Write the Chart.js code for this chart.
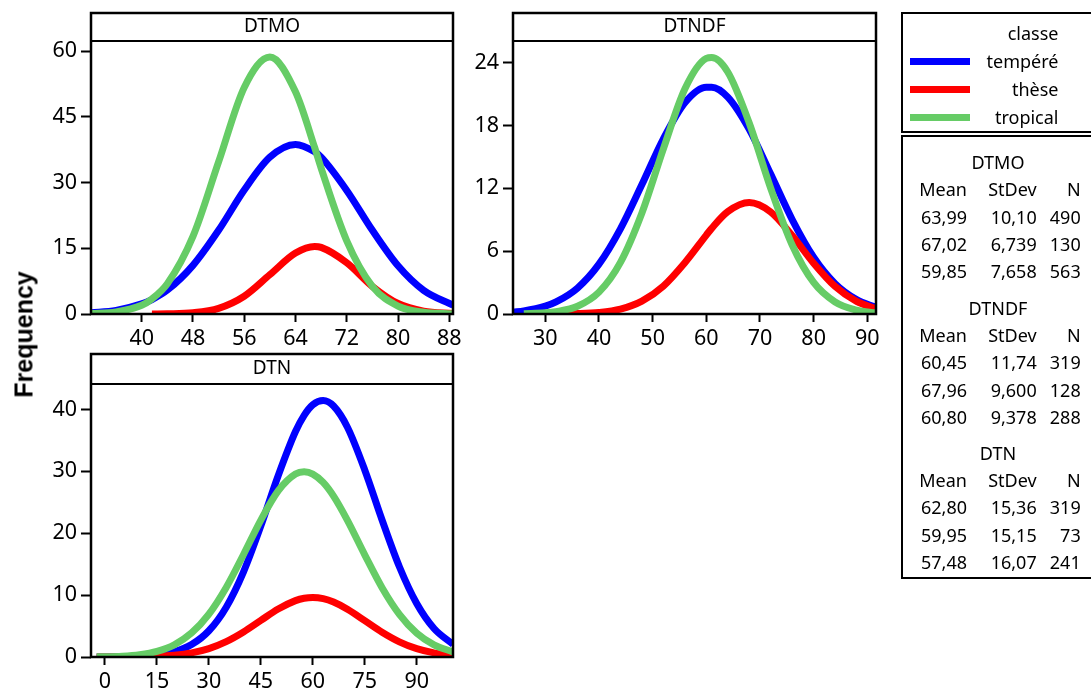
<!DOCTYPE html>
<html>
<head>
<meta charset="utf-8">
<title>classe</title>
<script src="https://cdn.jsdelivr.net/npm/chart.js@4.4.0/dist/chart.umd.min.js"></script>
<style>
  html, body { margin: 0; padding: 0; background: #fff; overflow: hidden; }
  body { width: 1091px; height: 693px; position: relative; font-family: "Noto Sans", sans-serif; color: #000; }
  canvas { position: absolute; }
  .box { position: absolute; border: 2px solid #000; box-sizing: border-box; background: #fff; }
  .txt { position: absolute; width: 200px; font-size: 18px; line-height: 24px; white-space: nowrap; }
  .swatch { position: absolute; width: 60px; height: 7px; }
  #ylab { position: absolute; left: -76px; top: 320px; width: 200px; line-height: 30px; text-align: center;
          font: bold 25px "Liberation Sans", Arial, sans-serif; transform: rotate(-90deg); }
</style>
</head>
<body>
<canvas id="dtmo" width="470" height="352" style="left:0;top:0"></canvas>
<canvas id="dtndf" width="433" height="352" style="left:460px;top:0"></canvas>
<canvas id="dtn" width="470" height="356" style="left:0;top:340px"></canvas>
<div id="ylab">Frequency</div>
<div class="box" style="left:901px;top:12px;width:200px;height:121px"></div>
<div class="box" style="left:901px;top:135px;width:200px;height:444px"></div>
<div id="legend"></div>

<script>
"use strict";

var classes = ['tempéré', 'thèse', 'tropical'];
var classColors = ['#0000FF', '#FF0000', '#66CC66'];

// DTMO
var dtmoX = [32, 36, 40, 41.6, 44, 48, 52, 56, 60, 64, 67, 68, 72, 76, 80, 84, 88.6];
var dtmoTempere = [0.26, 0.83, 2.3, 3.3, 5.45, 11.1, 19.1, 28.3, 35.8, 38.7, 37.0, 35.8, 28.2, 19.1, 11.0, 5.4, 2.0];
var dtmoThese = [null, null, null, 0.01, 0.05, 0.29, 1.3, 4.06, 8.97, 13.9, 15.4, 15.2, 11.7, 6.3, 2.4, 0.64, 0.1];
var dtmoTropical = [0.08, 0.46, 2.0, 3.43, 6.9, 17.7, 34.7, 51.7, 58.65, 50.7, 37.95, 33.3, 16.7, 6.3, 1.8, 0.4, 0.05];
var dtmoXTicks = [40, 48, 56, 64, 72, 80, 88];
var dtmoYTicks = [0, 15, 30, 45, 60];

// DTNDF
var dtndfX = [24, 26, 30, 32, 36, 40, 44, 48, 52, 56, 60, 61, 64, 68, 72, 76, 80, 84, 88, 91.6];
var dtndfTempere = [0.17, 0.29, 0.75, 1.15, 2.48, 4.76, 8.13, 12.36, 16.73, 20.18, 21.66, 21.66, 20.71, 17.63, 13.36, 9.02, 5.42, 2.90, 1.38, 0.64];
var dtndfThese = [null, null, null, 0.01, 0.04, 0.15, 0.47, 1.23, 2.67, 4.90, 7.54, 8.18, 9.77, 10.64, 9.74, 7.49, 4.85, 2.63, 1.20, 0.51];
var dtndfTropical = [null, 0.03, 0.11, 0.22, 0.74, 2.09, 4.93, 9.65, 15.77, 21.49, 24.41, 24.49, 23.11, 18.24, 12.01, 6.59, 3.01, 1.15, 0.37, 0.11];
var dtndfXTicks = [30, 40, 50, 60, 70, 80, 90];
var dtndfYTicks = [0, 6, 12, 18, 24];

// DTN
var dtnX = [-2.4, 5, 10, 15, 20, 25, 30, 35, 40, 45, 50, 55, 57.5, 60, 63, 66, 70, 75, 80, 85, 90, 95, 100.5];
var dtnTempere = [0.005, 0.03, 0.11, 0.33, 0.85, 2.01, 4.24, 8.05, 13.77, 21.18, 29.28, 36.42, 39.04, 40.75, 41.43, 40.54, 37.12, 30.22, 22.13, 14.58, 8.64, 4.60, 2.04];
var dtnThese = [0.002, 0.013, 0.04, 0.12, 0.30, 0.67, 1.36, 2.48, 4.04, 5.91, 7.75, 9.11, 9.49, 9.61, 9.42, 8.87, 7.71, 5.87, 4.00, 2.45, 1.34, 0.66, 0.27];
var dtnTropical = [0.03, 0.14, 0.38, 0.91, 1.97, 3.88, 6.93, 11.24, 16.56, 22.12, 26.84, 29.56, 29.91, 29.55, 28.20, 25.99, 22.08, 16.51, 11.20, 6.90, 3.86, 1.96, 0.83];
var dtnXTicks = [0, 15, 30, 45, 60, 75, 90];
var dtnYTicks = [0, 10, 20, 30, 40];

// summary table: Mean, StDev, N per classe
var statHeader = ['Mean', 'StDev', 'N'];
var dtmoStats = [['63,99', '10,10', '490'], ['67,02', '6,739', '130'], ['59,85', '7,658', '563']];
var dtndfStats = [['60,45', '11,74', '319'], ['67,96', '9,600', '128'], ['60,80', '9,378', '288']];
var dtnStats = [['62,80', '15,36', '319'], ['59,95', '15,15', '73'], ['57,48', '16,07', '241']];

// frame + title strip on top of each panel
var panelFrame = {
  id: 'panelFrame',
  afterDraw: function(chart) {
    var a = chart.chartArea, ctx = chart.ctx, o = chart.options.plugins.panelFrame;
    ctx.save();
    ctx.strokeStyle = '#000';
    ctx.lineWidth = 2.5;
    ctx.strokeRect(a.left, a.top - o.header, a.right - a.left, a.bottom - a.top + o.header);
    ctx.lineWidth = 2;
    ctx.beginPath();
    ctx.moveTo(a.left, a.top);
    ctx.lineTo(a.right, a.top);
    ctx.stroke();
    ctx.fillStyle = '#000';
    ctx.font = '19px "Noto Sans"';
    ctx.textAlign = 'center';
    ctx.textBaseline = 'middle';
    ctx.fillText(o.title, (a.left + a.right) / 2, a.top - o.header / 2);
    ctx.restore();
  }
};

var makePanel = function(id, p) {
  var datasets = p.series.map(function(ys, k) {
    return {
      label: classes[k],
      data: p.x.map(function(x, i) { return {x: x, y: ys[i]}; }),
      borderColor: classColors[k],
      borderWidth: 7,
      pointRadius: 0,
      fill: false,
      cubicInterpolationMode: 'monotone',
      order: 3 - k
    };
  });

  var tickFont = {family: 'Noto Sans', size: 21.5};

  new Chart(document.getElementById(id), {
    type: 'line',
    data: {datasets: datasets},
    options: {
      responsive: false,
      animation: false,
      layout: {padding: {top: p.top, right: p.right, left: 0, bottom: 0}},
      plugins: {
        legend: {display: false},
        tooltip: {enabled: false},
        panelFrame: {title: p.title, header: p.header}
      },
      scales: {
        x: {
          type: 'linear',
          min: p.xMin,
          max: p.xMax,
          afterBuildTicks: function(s) { s.ticks = p.xTicks.map(function(v) { return {value: v}; }); },
          afterFit: function(s) { s.height = p.xHeight; },
          border: {display: false},
          grid: {drawOnChartArea: false, tickLength: 8, tickWidth: 2, tickColor: '#000'},
          ticks: {font: tickFont, color: '#000', padding: 4, maxRotation: 0}
        },
        y: {
          min: 0,
          max: p.yMax,
          afterBuildTicks: function(s) { s.ticks = p.yTicks.map(function(v) { return {value: v}; }); },
          afterFit: function(s) { s.width = p.yWidth; },
          border: {display: false},
          grid: {drawOnChartArea: false, tickLength: 10, tickWidth: 2, tickColor: '#000'},
          ticks: {font: tickFont, color: '#000', padding: 4}
        }
      }
    },
    plugins: [panelFrame]
  });
};

makePanel('dtmo', {
  title: 'DTMO', header: 28, top: 41, right: 17, yWidth: 91, xHeight: 38,
  x: dtmoX, series: [dtmoTempere, dtmoThese, dtmoTropical],
  xMin: 32.09, xMax: 88.58, yMax: 62.3, xTicks: dtmoXTicks, yTicks: dtmoYTicks
});

makePanel('dtndf', {
  title: 'DTNDF', header: 28, top: 41, right: 17, yWidth: 53, xHeight: 38,
  x: dtndfX, series: [dtndfTempere, dtndfThese, dtndfTropical],
  xMin: 23.98, xMax: 91.62, yMax: 26.07, xTicks: dtndfXTicks, yTicks: dtndfYTicks
});

makePanel('dtn', {
  title: 'DTN', header: 30, top: 44, right: 17, yWidth: 91, xHeight: 39,
  x: dtnX, series: [dtnTempere, dtnThese, dtnTropical],
  xMin: -4.04, xMax: 100.48, yMax: 44.1, xTicks: dtnXTicks, yTicks: dtnYTicks
});

// legend + stats table
var legend = document.getElementById('legend');

var addText = function(str, x, y, align) {
  var d = document.createElement('div');
  d.className = 'txt';
  d.textContent = str;
  d.style.top = (y - 12.5) + 'px';
  d.style.textAlign = align;
  d.style.left = (align === 'right' ? x - 200 : x - 100) + 'px';
  legend.appendChild(d);
};

addText('classe', 1058.5, 33, 'right');
classes.forEach(function(c, k) {
  var y = 61 + k * 28;
  addText(c, 1058.5, y, 'right');
  var s = document.createElement('div');
  s.className = 'swatch';
  s.style.left = '910px';
  s.style.top = (y - 3.5) + 'px';
  s.style.background = classColors[k];
  legend.appendChild(s);
});

var colRight = [967, 1036.7, 1080.7];
var rowOffsets = [27, 54.5, 81.7, 108.7];
[['DTMO', dtmoStats, 162.7], ['DTNDF', dtndfStats, 308.3], ['DTN', dtnStats, 453.3]].forEach(function(sec) {
  addText(sec[0], 998, sec[2], 'center');
  [statHeader].concat(sec[1]).forEach(function(row, r) {
    row.forEach(function(v, c) {
      addText(v, colRight[c], sec[2] + rowOffsets[r], 'right');
    });
  });
});
</script>
</body>
</html>
